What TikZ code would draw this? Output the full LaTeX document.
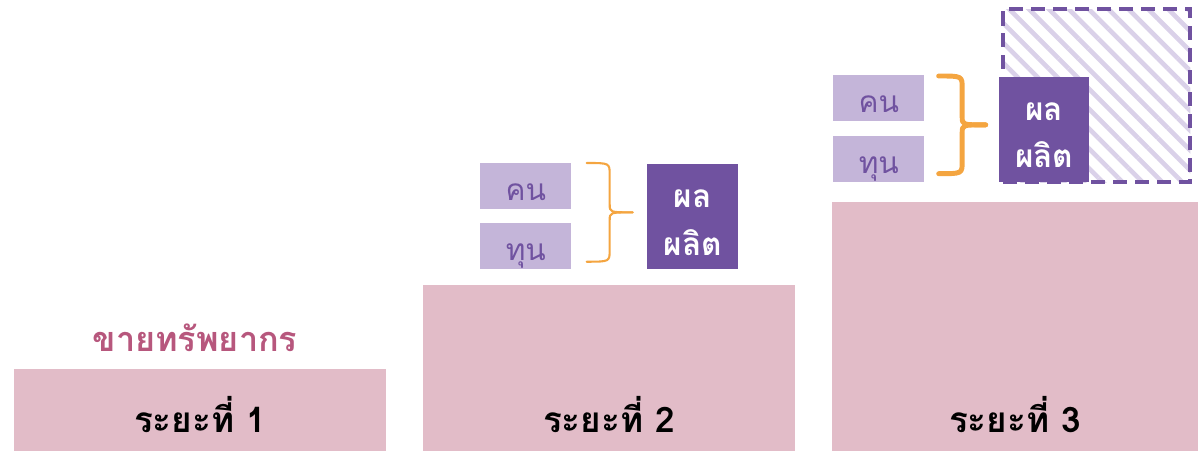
\documentclass[tikz,border=0pt]{standalone}
\usepackage{fontspec}
\newfontfamily\thaifont[Script=Thai]{Loma}
\usetikzlibrary{positioning,calc,patterns.meta}
\definecolor{stagepink}{HTML}{E2BCC8}
\definecolor{lilac}{HTML}{C4B5D9}
\definecolor{plum}{HTML}{7052A0}
\definecolor{rose}{HTML}{B7577D}
\definecolor{braceorange}{HTML}{F4A540}
\definecolor{stripe}{HTML}{DAD1E9}
% curly brace from top end #2 to bottom end #3, depth #4 (px)
\def\sidebrace[#1](#2)(#3)#4{\draw[#1] (#2) .. controls ($(#2)+(#4/2,0)$) .. ($(#2)+(#4/2,12)$) -- ($(#2)!0.5!(#3)+(#4/2,-8)$) .. controls ($(#2)!0.5!(#3)+(#4/2,0)$) .. ($(#2)!0.5!(#3)+(#4,0)$);
  \draw[#1] (#3) .. controls ($(#3)+(#4/2,0)$) .. ($(#3)+(#4/2,-12)$) -- ($(#2)!0.5!(#3)+(#4/2,8)$) .. controls ($(#2)!0.5!(#3)+(#4/2,0)$) .. ($(#2)!0.5!(#3)+(#4,0)$);}

\begin{document}
\begin{tikzpicture}[x=0.02cm,y=-0.02cm,
	stage/.style={fill=stagepink, inner sep=0, anchor=north west},
	stagetext/.style={font=\thaifont\bfseries\fontsize{20}{24}\selectfont},
	part/.style={fill=lilac, text=plum, inner sep=0, anchor=north west, minimum width=1.82cm, minimum height=0.92cm, text height=16pt, text depth=0pt, font=\thaifont\fontsize{17}{20}\selectfont},
	yield/.style={fill=plum, inner sep=0, anchor=north west, minimum width=1.82cm, minimum height=2.1cm},
	yieldtext/.style={text=white, align=center, font=\thaifont\bfseries\fontsize{18}{27}\selectfont},
	bracestroke/.style={draw=braceorange, line cap=round, line join=round}]
				%%%%% START %%%%%
				\useasboundingbox (0,0) rectangle (1198,451);
				
				% stage 1
				\node[stage, minimum width=7.44cm, minimum height=1.64cm] (s1) at (14,369) {};
				\node[stagetext] (t1) at (200,415) {ระยะที่ 1};
				\node[text=rose, font=\thaifont\bfseries\fontsize{19.5}{24}\selectfont] (sell) at (195,338) {ขายทรัพยากร};
				
				% stage 2
				\node[stage, minimum width=7.44cm, minimum height=3.32cm] (s2) at (423,285) {};
				\node[stagetext] (t2) at (609,415) {ระยะที่ 2};
				\node[part] (kon2) at (480,163) {คน};
				\node[part] (tun2) at (480,223) {ทุน};
				\node[yield] (out2) at (647,164) {};
				\node[yieldtext] (out2txt) at ([yshift=-3.2pt]out2.center) {ผล\\ผลิต};
				\coordinate (b2top) at ($(kon2.north east)+(15,0)$);
				\coordinate (b2bot) at ($(tun2.south east)+(15,-8)$);
				\sidebrace[bracestroke, line width=1.2pt](b2top)(b2bot){46};
				
				% stage 3
				\node[stage, minimum width=7.32cm, minimum height=4.98cm] (s3) at (832,202) {};
				\node[stagetext] (t3) at (1015,415) {ระยะที่ 3};
				\node[draw=plum, line width=2.3pt, dash pattern=on 8pt off 4.5pt, anchor=north west, minimum width=3.74cm, minimum height=3.46cm,
					pattern={Lines[angle=-45,distance=8pt,line width=2.6pt]}, pattern color=stripe] (goal) at (1001,7) {};
				\node[part] (kon3) at (833,75) {คน};
				\node[part] (tun3) at (833,136) {ทุน};
				\node[yield, minimum width=1.8cm] (out3) at (999,77) {};
				\node[yieldtext] (out3txt) at ([yshift=-3pt]out3.center) {ผล\\ผลิต};
				\coordinate (b3top) at ($(kon3.north east)+(14,1)$);
				\coordinate (b3bot) at ($(tun3.south east)+(14,-9)$);
				\sidebrace[bracestroke, line width=2.8pt](b3top)(b3bot){47};
				%%%%% END %%%%%
\end{tikzpicture}
\end{document}
